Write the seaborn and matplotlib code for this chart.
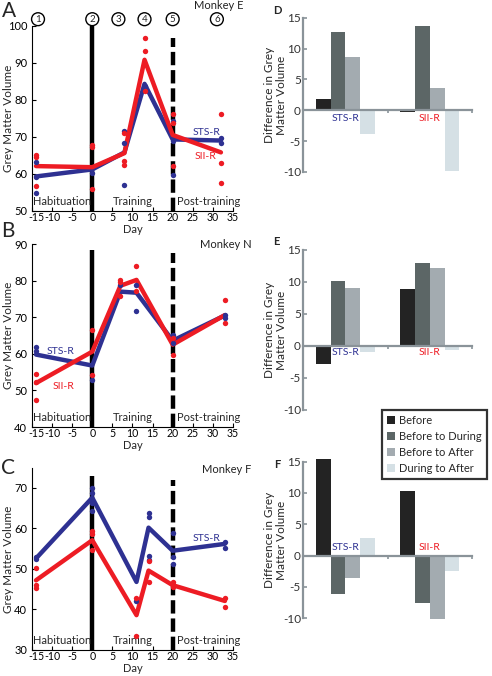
import matplotlib
matplotlib.use("Agg")
import matplotlib.pyplot as plt
from matplotlib.patches import Patch
import matplotlib.transforms as mtransforms
import numpy as np
import pandas as pd
import seaborn as sns

sns.set_theme(style="white")
plt.rcParams["font.family"] = ["Lato", "DejaVu Sans"]
plt.rcParams["axes.unicode_minus"] = False

BLUE = "#2e3192"
RED = "#ed1c24"

# ---------------- data: line panels ----------------
A_days = [-14, 0, 8, 13, 20, 32]
A_sts_line = [59.3, 61.2, 65.8, 84.3, 69.3, 69.0]
A_sii_line = [62.1, 61.8, 65.6, 90.8, 70.5, 65.8]
A_sts_dot_day = [-14, -14, -14, 0, 8, 8, 8, 13, 13, 20, 20, 20, 32, 32]
A_sts_dot_val = [63.3, 59.2, 54.9, 60.1, 71.6, 68.2, 57.1, 83.6, 82.8, 74.4, 69.0, 59.6, 69.8, 68.4]
A_sii_dot_day = [-14, -14, -14, 0, 0, 0, 8, 8, 8, 13, 13, 13, 20, 20, 20, 32, 32, 32]
A_sii_dot_val = [65.1, 64.6, 56.7, 67.7, 67.3, 55.9, 70.9, 63.5, 62.3, 96.8, 93.2, 82.5,
                 76.2, 73.6, 62.2, 76.2, 63.0, 57.6]

B_days = [-14, 0, 7, 11, 20, 33]
B_sts_line = [59.8, 56.8, 77.0, 76.7, 63.6, 70.5]
B_sii_line = [52.0, 60.6, 78.6, 80.2, 62.5, 70.6]
B_sts_dot_day = [-14, -14, 0, 7, 11, 11, 20, 20, 33, 33]
B_sts_dot_val = [61.8, 60.9, 52.9, 78.8, 78.8, 71.8, 65.2, 62.9, 70.6, 69.7]
B_sii_dot_day = [-14, -14, -14, 0, 0, 7, 7, 7, 11, 11, 20, 20, 33, 33]
B_sii_dot_val = [54.5, 52.3, 47.4, 66.5, 54.3, 80.2, 79.5, 75.8, 84.0, 77.3, 64.3, 59.7, 74.7, 68.5]

C_days = [-14, 0, 11, 14, 20, 33]
C_sts_line = [52.6, 67.6, 46.8, 60.2, 54.5, 56.2]
C_sii_line = [47.2, 57.1, 38.6, 49.6, 46.0, 42.1]
C_sts_dot_day = [-14, -14, 0, 0, 0, 0, 11, 14, 14, 14, 14, 20, 20, 20, 33, 33]
C_sts_dot_val = [52.9, 52.5, 70.0, 68.8, 66.3, 64.3, 42.1, 63.7, 62.9, 53.3, 52.1, 59.0, 52.9, 51.3, 56.7, 55.1]
C_sii_dot_day = [-14, -14, -14, 0, 0, 0, 11, 11, 14, 14, 20, 20, 33, 33]
C_sii_dot_val = [50.2, 46.0, 45.2, 59.4, 58.6, 54.8, 42.9, 33.5, 51.9, 46.8, 46.9, 45.6, 42.9, 40.7]

event_days = [0, 20]
scan_numbers = ["1", "2", "3", "4", "5", "6"]
scan_marker_days = [-13.5, 0, 6.5, 13, 20, 31]
phase_labels = ["Habituation", "Training", "Post-training"]
monkeys = ["Monkey E", "Monkey N", "Monkey F"]
x_ticks = [-15, -10, -5, 0, 5, 10, 15, 20, 25, 30, 35]

# ---------------- data: bar panels ----------------
regions = ["STS-R", "SII-R"]
comparisons = ["Before", "Before to During", "Before to After", "During to After"]
D_sts = [1.9, 12.7, 8.7, -3.9]
D_sii = [-0.3, 13.6, 3.6, -9.8]
E_sts = [-2.9, 10.1, 9.0, -0.9]
E_sii = [8.9, 13.0, 12.1, -0.7]
F_sts = [15.5, -6.2, -3.5, 2.8]
F_sii = [10.3, -7.6, -10.1, -2.5]
bar_colors = ["#232323", "#5c6666", "#a3abb0", "#d5e0e5"]
bar_yticks = [-10, -5, 0, 5, 10, 15]

fig = plt.figure(figsize=(4.92, 6.76), dpi=100)

left_rects = [(0.065, 0.688, 0.4085, 0.274),
              (0.065, 0.3683, 0.4085, 0.2707),
              (0.065, 0.0385, 0.4085, 0.269)]
right_rects = [(0.616, 0.7456, 0.3435, 0.228),
               (0.616, 0.3935, 0.3435, 0.237),
               (0.616, 0.0854, 0.3435, 0.2317)]

line_sets = [
    (A_days, A_sts_line, A_sii_line, A_sts_dot_day, A_sts_dot_val, A_sii_dot_day, A_sii_dot_val,
     (50, 100), [50, 60, 70, 80, 90, 100], (100, 96.6)),
    (B_days, B_sts_line, B_sii_line, B_sts_dot_day, B_sts_dot_val, B_sii_dot_day, B_sii_dot_val,
     (40, 90), [40, 50, 60, 70, 80, 90], (88.4, 87.5)),
    (C_days, C_sts_line, C_sii_line, C_sts_dot_day, C_sts_dot_val, C_sii_dot_day, C_sii_dot_val,
     (30, 74.9), [30, 40, 50, 60, 70], (72.9, 72.0)),
]

label_pos = [
    [("STS-R", BLUE, 25.0, 71.2), ("SII-R", RED, 25.5, 64.6)],
    [("STS-R", BLUE, -11.3, 60.6), ("SII-R", RED, -9.8, 51.0)],
    [("STS-R", BLUE, 25.0, 57.6)],
]
monkey_pos = [(1.05, 1.108), (1.094, 1.0), (1.094, 0.995)]
shift_first = mtransforms.ScaledTranslation(3.5 / 72, 0, fig.dpi_scale_trans)

for i, rect in enumerate(left_rects):
    ax = fig.add_axes(rect)
    (days, sts_l, sii_l, sdd, sdv, rdd, rdv, ylim, yticks, tops) = line_sets[i]
    sns.lineplot(x=days, y=sts_l, color=BLUE, lw=3.2, ax=ax, sort=False, zorder=3)
    sns.lineplot(x=days, y=sii_l, color=RED, lw=3.2, ax=ax, sort=False, zorder=3)
    sns.scatterplot(x=sdd, y=sdv, color=BLUE, s=15, linewidth=0, ax=ax, zorder=4)
    sns.scatterplot(x=rdd, y=rdv, color=RED, s=15, linewidth=0, ax=ax, zorder=4)
    ax.vlines(event_days[0], ylim[0], tops[0], color="black", lw=3.2, zorder=2)
    ax.vlines(event_days[1], ylim[0], tops[1], color="black", lw=3.2,
              linestyles=(0, (3, 1.1)), zorder=2)
    ax.set_xlim(-15, 35)
    ax.set_ylim(*ylim)
    ax.set_xticks(x_ticks)
    ax.set_yticks(yticks)
    for s in ["top", "right"]:
        ax.spines[s].set_visible(False)
    for s in ["left", "bottom"]:
        ax.spines[s].set_color("black")
        ax.spines[s].set_linewidth(0.8)
    ax.tick_params(direction="in", length=3, width=0.8, labelsize=8,
                   colors="black", left=True, bottom=True)
    ax.tick_params(axis="x", pad=1, labelsize=7.6)
    ax.tick_params(axis="y", pad=3.5)
    first_tick = ax.xaxis.get_major_ticks()[0]
    first_tick.label1.set_transform(first_tick.label1.get_transform() + shift_first)
    ax.set_xlabel("Day", fontsize=8)
    ax.xaxis.set_label_coords(0.5, -0.103)
    ax.xaxis.label.set_va("center")
    ax.set_ylabel("Grey Matter Volume", fontsize=8.5)
    ax.yaxis.set_label_coords(-0.088, 0.5)
    trans = mtransforms.blended_transform_factory(ax.transData, ax.transAxes)
    ax.text(-14.8, 0.05, phase_labels[0], transform=trans, fontsize=8, va="center", ha="left")
    ax.text(10.2, 0.05, phase_labels[1], transform=trans, fontsize=8, va="center", ha="center")
    ax.text(21.0, 0.05, phase_labels[2], transform=trans, fontsize=8, va="center", ha="left",
            clip_on=False)
    for (txt, col, x, y) in label_pos[i]:
        ax.text(x, y, txt, color=col, fontsize=7.5, ha="left", va="center")
    mx, my = monkey_pos[i]
    ax.text(mx, my, monkeys[i], transform=ax.transAxes, fontsize=8, ha="right", va="center",
            color="#222222")
    if i == 0:
        for n, d in zip(scan_numbers, scan_marker_days):
            ax.text(d, 1.035, n, transform=trans, fontsize=7, ha="center", va="center",
                    bbox=dict(boxstyle="circle,pad=0.2", fc="white", ec="black", lw=1.0),
                    clip_on=False, zorder=6)

bar_sets = [(D_sts, D_sii), (E_sts, E_sii), (F_sts, F_sii)]
group_label_y = [(-0.55, "top"), (-0.4, "top"), (0.5, "bottom")]
for i, rect in enumerate(right_rects):
    ax = fig.add_axes(rect)
    sts, sii = bar_sets[i]
    df = pd.DataFrame({
        "region": [regions[0]] * 4 + [regions[1]] * 4,
        "comparison": comparisons * 2,
        "diff": sts + sii,
    })
    sns.barplot(data=df, x="region", y="diff", hue="comparison", order=regions,
                hue_order=comparisons, palette=bar_colors, width=0.7, saturation=1,
                ax=ax, legend=False, edgecolor="none", errorbar=None)
    for p in ax.patches:
        p.set_clip_on(False)
    ax.set_xlim(-0.5, 1.5)
    ax.set_ylim(-10, 15)
    ax.set_yticks(bar_yticks)
    ax.set_xticks([0.5, 1.5])
    ax.set_xticklabels([])
    ax.set_xlabel("")
    for s in ["top", "right"]:
        ax.spines[s].set_visible(False)
    ax.spines["bottom"].set_position(("data", 0))
    for s in ["left", "bottom"]:
        ax.spines[s].set_color("#8a9399")
        ax.spines[s].set_linewidth(1.6)
    ax.tick_params(axis="y", direction="in", length=3, width=1.2, color="#8a9399",
                   labelsize=8.5, labelcolor="#333333", pad=1.5, left=True)
    ax.tick_params(axis="x", direction="out", length=2, width=1.2, color="#8a9399", bottom=True)
    ax.set_ylabel("Difference in Grey\nMatter Volume", fontsize=8.5, linespacing=1.1)
    ax.yaxis.set_label_coords(-0.095, 0.5)
    gy, gva = group_label_y[i]
    ax.text(0, gy, regions[0], color=BLUE, fontsize=7.5, ha="center", va=gva)
    ax.text(1, gy, regions[1], color=RED, fontsize=7.5, ha="center", va=gva)

handles = [Patch(facecolor=c, edgecolor="none") for c in bar_colors]
leg = fig.legend(handles, comparisons, loc="upper left", bbox_to_anchor=(0.776, 0.3935),
                 fontsize=8, frameon=True, fancybox=False, borderaxespad=0,
                 handlelength=0.7, handleheight=0.7, handletextpad=0.4,
                 labelspacing=0.45, borderpad=0.45)
leg.get_frame().set_edgecolor("black")
leg.get_frame().set_linewidth(1.6)

# panel letters
fig.text(0.003, 0.998, "A", fontsize=15, va="top", ha="left")
fig.text(0.003, 0.673, "B", fontsize=15, va="top", ha="left")
fig.text(0.003, 0.3225, "C", fontsize=15, va="top", ha="left")
fig.text(0.555, 0.993, "D", fontsize=8, fontweight="bold", va="top", ha="left")
fig.text(0.555, 0.651, "E", fontsize=8, fontweight="bold", va="top", ha="left")
fig.text(0.558, 0.321, "F", fontsize=8, fontweight="bold", va="top", ha="left")

fig.savefig("out.png", dpi=100)
